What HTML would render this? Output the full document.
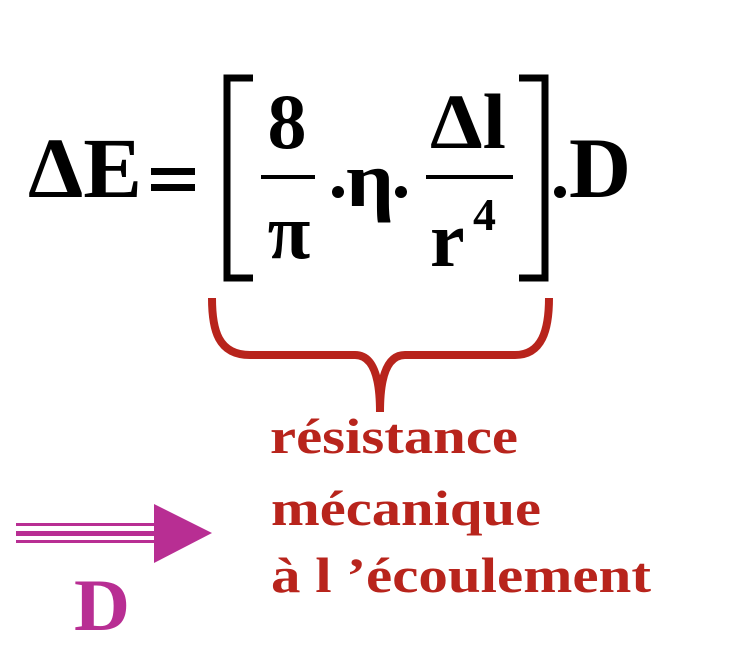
<!DOCTYPE html>
<html><head><meta charset="utf-8"><style>
html,body{margin:0;padding:0;background:#fff;}
svg{display:block;}
text{font-family:"Liberation Serif",serif;font-weight:bold;}
</style></head><body>
<svg width="740" height="660" viewBox="0 0 740 660" xmlns="http://www.w3.org/2000/svg">
<text x="28" y="197" font-size="86" textLength="114" lengthAdjust="spacingAndGlyphs">ΔE</text>
<rect x="151" y="168" width="44" height="7" fill="#000"/>
<rect x="151" y="184" width="44" height="7" fill="#000"/>
<path d="M253 78 H227 V278 H253" fill="none" stroke="#000" stroke-width="7"/>
<path d="M519 78 H545 V278 H519" fill="none" stroke="#000" stroke-width="7"/>
<text x="287" y="148" font-size="78" text-anchor="middle">8</text>
<rect x="261" y="175" width="54" height="4" fill="#000"/>
<text x="289" y="258" font-size="78" text-anchor="middle">π</text>
<circle cx="338" cy="192" r="6" fill="#000"/>
<text x="346" y="206" font-size="78" textLength="48" lengthAdjust="spacingAndGlyphs">η</text>
<circle cx="401" cy="192" r="6" fill="#000"/>
<text x="430" y="148" font-size="78" textLength="76" lengthAdjust="spacingAndGlyphs">Δl</text>
<rect x="426" y="175" width="87" height="4" fill="#000"/>
<text x="430" y="266" font-size="78">r</text>
<text x="473" y="230" font-size="46">4</text>
<circle cx="560" cy="192" r="6" fill="#000"/>
<text x="569" y="197" font-size="86" textLength="62" lengthAdjust="spacingAndGlyphs">D</text>
<path d="M212 298 C212 330 218 355 250 355 H355 C372 355 380 375 380 412 C380 375 388 355 405 355 H515 C542 355 549 330 549 298" fill="none" stroke="#b8241c" stroke-width="8"/>
<g fill="#b8241c" font-size="50">
<text x="270" y="453" textLength="248" lengthAdjust="spacingAndGlyphs">résistance</text>
<text x="271" y="525" textLength="270" lengthAdjust="spacingAndGlyphs">mécanique</text>
<text x="271" y="592" textLength="380" lengthAdjust="spacingAndGlyphs">à l ’écoulement</text>
</g>
<g fill="#b82e93">
<rect x="16" y="523" width="140" height="3"/>
<rect x="16" y="531" width="140" height="5"/>
<rect x="16" y="540" width="140" height="3"/>
<polygon points="154,504 212,533 154,563"/>
<text x="74" y="630" font-size="74" textLength="56" lengthAdjust="spacingAndGlyphs">D</text>
</g>
</svg>
</body></html>
